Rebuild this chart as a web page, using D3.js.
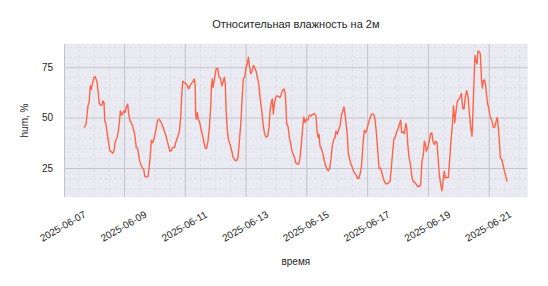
<!DOCTYPE html>
<meta charset="utf-8">
<style>
body { margin: 0; background: #fff; }
text { font-family: "Liberation Sans", Arial, sans-serif; fill: #262626; }
.grid line { stroke: #c4c4cc; stroke-width: 1; }
.grid path { display: none; }
.minor line { stroke: #dcdce4; stroke-width: 0.8; stroke-dasharray: 3,2; }
.minor path { display: none; }
.axis path, .axis line { display: none; }
</style>
<svg width="548" height="286"></svg>
<script src="https://d3js.org/d3.v7.min.js"></script>
<script>

// hours since 2025-06-07 00:00 UTC
var hours = [16.4,18.0,19.6,20.4,21.4,22.2,23.0,24.3,25.3,26.7,27.5,28.3,29.3,30.6,31.4,32.2,32.8,33.8,34.8,35.9,
  36.7,38.0,39.1,40.1,41.1,42.5,43.5,44.3,45.1,45.9,46.7,47.8,48.8,49.8,50.9,51.7,52.8,53.8,55.1,56.5,
  57.7,58.8,60.1,61.2,62.5,63.6,64.4,65.6,67.0,67.8,68.8,69.6,70.7,71.7,73.0,74.3,75.4,76.4,78.0,79.6,
  81.2,82.8,84.3,85.4,86.7,88.1,89.1,90.4,91.7,92.8,93.6,94.4,95.4,96.7,98.0,99.1,100.1,101.2,102.3,103.3,
  104.1,104.6,105.1,105.9,106.7,107.8,108.8,110.2,111.2,112.2,113.3,114.3,115.4,116.5,117.0,117.7,118.3,119.1,119.9,120.7,
  122.0,123.0,124.1,125.2,126.2,127.2,128.0,128.6,129.4,130.4,131.7,133.1,134.3,135.7,137.0,138.0,139.1,140.2,141.2,142.2,
  143.3,144.4,145.4,146.2,147.0,148.1,149.1,150.1,151.2,152.3,153.3,154.4,155.4,156.8,158.0,159.1,160.2,161.5,162.5,163.3,
  164.3,165.1,165.9,166.7,167.8,168.8,169.9,171.2,172.2,173.3,174.4,175.4,176.5,177.5,178.6,179.7,180.7,181.7,182.8,183.6,
  184.9,186.0,187.0,188.0,189.1,189.9,190.9,192.0,193.1,194.1,194.9,195.9,197.0,198.3,199.6,200.6,201.4,202.0,202.8,203.8,
  204.9,206.0,207.0,208.1,209.3,210.4,211.5,212.5,213.6,214.6,215.4,216.5,217.6,218.6,219.6,220.7,221.7,222.5,223.3,224.4,
  225.1,226.2,227.3,228.6,229.9,231.2,232.6,233.6,234.6,235.7,236.8,237.8,238.9,239.9,240.9,242.0,243.1,244.1,245.2,246.2,
  247.3,248.4,249.4,250.4,251.5,252.5,253.8,255.2,256.5,258.1,259.1,260.2,261.2,262.3,263.4,264.4,265.4,266.5,267.3,268.3,
  269.4,270.5,271.3,272.1,273.1,274.1,275.2,276.3,277.6,278.6,280.0,281.2,282.3,283.3,284.4,285.2,286.0,286.7,287.8,288.9,
  289.9,291.0,292.0,293.1,294.2,295.2,296.0,297.0,298.1,299.1,300.2,301.0,301.7,302.8,304.1,305.2,306.3,307.3,308.2,309.2,
  310.2,311.2,312.3,313.3,314.4,315.5,316.5,317.5,318.6,319.7,320.7,321.8,322.8,323.6,324.4,325.2,326.0,326.8,327.6,328.6,
  329.4,330.2,331.0,331.8,332.8,333.6,334.4,335.2,336.2,337.0,338.1,338.9,339.7,340.8,341.8,342.8,343.6,344.4,345.2,346.3,
  347.3,348.3,349.4,350.5];

var hum = [45,46.7,56,57.5,65.8,64,66.7,70,70.3,67.5,63.3,57.5,56.2,56.2,58.3,57.5,48.3,46.7,41.7,37.5,
  33.7,33,32.3,33.3,38.3,40,43.3,47.5,53.3,51.3,51.7,53.3,52.5,55,56.7,51.7,48.3,47.5,45,41.7,
  35,34.7,29.2,27,25,24.2,20.8,20.5,20.8,25,31.7,38.7,37.5,39.6,43.3,48,49.2,48.7,46.7,43.7,
  40.8,36.7,33.3,33.7,35.3,35.3,38.3,40.3,43.3,50,61.7,68,67.5,67,65.8,64.2,65.8,67,67.5,69.2,
  67.5,51.7,49.2,52.5,49.2,47.5,44.2,40.8,37.5,34.7,34.7,38.3,45,55.8,65,69.2,65,68,70.8,74.2,
  74.5,70,69.7,65.8,67.5,70,66.7,54.2,45,39.2,36.7,33.3,30,28.7,28.7,30,38.3,46.7,58.3,69.2,
  70,75,76.7,80,75.8,71.7,73,75.8,75,73,70,66.7,60,53.3,45.8,41.7,40.3,40.8,45,53.3,
  57.5,59.2,51.7,56.7,60,60.8,60.5,60,61.7,63.7,64.2,61.7,46.7,45.8,40,36.7,33.3,31.7,30,27.5,
  27,27,30,36.7,45,50.3,47.5,49.2,48.7,50.6,51.3,50.8,51.7,52,50.8,42.5,40,41.7,35.8,34.7,
  32.5,29.2,26.3,24.7,23.7,24.7,30,35.8,39.2,40,43.3,41.7,44.2,45.8,50.8,53.3,55.3,51.7,47.5,40.8,
  32.5,29.2,26.7,24.7,22.5,21.7,19.7,20,22.5,26.7,37.5,43.7,42.5,44.2,47,49.2,51.3,51.7,51.7,49.2,
  42.5,33.3,24.7,25,23,20.4,18,17,17.5,18.3,25,33.3,39.7,40.3,43.3,44.2,46.7,48.7,42.5,43,
  42,47,45,36.7,30,27,21.3,18.3,18,17,15.8,15.8,16.7,28.3,31.7,38.3,36.7,33.3,35,37.5,
  41.7,42.5,38.3,36.7,38.3,37.5,30,21.7,16.7,13.7,20,23.3,20,20.3,20.3,29.2,39.2,46,55.8,47.5,
  53.3,58,59,60,62,54.7,54.2,60,63.3,60.3,52.5,45,40.8,53.3,68.3,80.8,78.3,76.7,83,82.5,
  81.7,70,64.7,68.3,68.7,65.8,60.8,56.7,54.2,50.8,49.2,47.5,45,45.3,48,50,45.3,38.3,30,29.2,
  26.7,23.7,21.3,18.3];

var tickLabels = ["2025-06-07","2025-06-09","2025-06-11","2025-06-13","2025-06-15","2025-06-17","2025-06-19","2025-06-21"];
var yTicks = [25, 50, 75];
var yMinor = [15, 20, 30, 35, 40, 45, 55, 60, 65, 70, 80, 85];

var t0 = Date.UTC(2025, 5, 7);
var HOUR = 3600 * 1000;
var data = hours.map(function (h, i) { return { date: new Date(t0 + h * HOUR), v: hum[i] }; });
var tickDates = tickLabels.map(function (s) { return new Date(s + "T00:00:00Z"); });
var minorDates = d3.utcHour.every(12).range(new Date(t0), new Date(t0 + 368 * HOUR));

var pL = 64, pR = 527.7, pT = 44, pB = 197;
var svg = d3.select("svg");

var x = d3.scaleUtc()
    .domain([new Date(t0 + 0.6 * HOUR), new Date(t0 + 366.8 * HOUR)])
    .range([pL, pR]);
var y = d3.scaleLinear().domain([10.6, 86.5]).range([pB, pT]);

svg.append("rect")
    .attr("x", pL).attr("y", pT)
    .attr("width", pR - pL).attr("height", pB - pT)
    .attr("fill", "#eaeaf2");

svg.append("clipPath").attr("id", "clip")
  .append("rect").attr("x", pL).attr("y", pT).attr("width", pR - pL).attr("height", pB - pT);

var gridG = svg.append("g").attr("clip-path", "url(#clip)");

// minor grid
gridG.append("g").attr("class", "minor")
    .attr("transform", "translate(0," + pB + ")")
    .call(d3.axisBottom(x).tickValues(minorDates).tickSize(-(pB - pT)).tickFormat(""));
gridG.append("g").attr("class", "minor")
    .attr("transform", "translate(" + pL + ",0)")
    .call(d3.axisLeft(y).tickValues(yMinor).tickSize(-(pR - pL)).tickFormat(""));

// major grid
gridG.append("g").attr("class", "grid")
    .attr("transform", "translate(0," + pB + ")")
    .call(d3.axisBottom(x).tickValues(tickDates).tickSize(-(pB - pT)).tickFormat(""));
gridG.append("g").attr("class", "grid")
    .attr("transform", "translate(" + pL + ",0)")
    .call(d3.axisLeft(y).tickValues(yTicks).tickSize(-(pR - pL)).tickFormat(""));

// left spine
svg.append("line")
    .attr("x1", pL + 0.5).attr("x2", pL + 0.5)
    .attr("y1", pT).attr("y2", pB)
    .attr("stroke", "#c4c4cc");

// humidity line
var line = d3.line()
    .x(function (d) { return x(d.date); })
    .y(function (d) { return y(d.v); });

svg.append("path")
    .datum(data)
    .attr("fill", "none")
    .attr("stroke", "#ff6347")
    .attr("stroke-width", 1.4)
    .attr("stroke-linejoin", "round")
    .attr("d", line);

// y axis labels
var yAxis = svg.append("g").attr("class", "axis")
    .attr("transform", "translate(" + pL + ",0)")
    .call(d3.axisLeft(y).tickValues(yTicks).tickSize(0).tickPadding(11));
yAxis.selectAll("text").style("font-size", "10px").style("font-family", "'Liberation Sans', Arial, sans-serif").attr("fill", "#262626");

// x axis labels (rotated, centered on tick)
svg.append("g").selectAll("text")
    .data(tickDates)
  .enter().append("text")
    .attr("transform", function (d) { return "translate(" + x(d) + ",227) rotate(-30)"; })
    .attr("text-anchor", "middle")
    .attr("dominant-baseline", "middle")
    .style("font-size", "10px")
    .text(d3.utcFormat("%Y-%m-%d"));

svg.append("text")
    .attr("x", (pL + pR) / 2).attr("y", 265)
    .attr("text-anchor", "middle")
    .style("font-size", "10px")
    .text("время");

svg.append("text")
    .attr("transform", "translate(28," + (pT + pB) / 2 + ") rotate(-90)")
    .attr("text-anchor", "middle")
    .style("font-size", "10px")
    .text("hum, %");

svg.append("text")
    .attr("x", (pL + pR) / 2).attr("y", 28)
    .attr("text-anchor", "middle")
    .style("font-size", "11px")
    .text("Относительная влажность на 2м");

</script>
